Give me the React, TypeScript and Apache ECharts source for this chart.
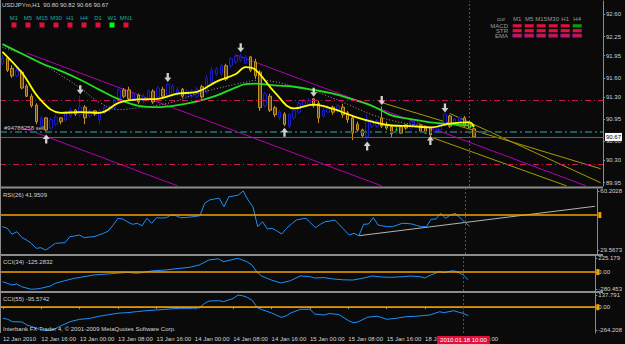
import React, { useEffect, useRef } from 'react';
import * as echarts from 'echarts';

// ---------- data ----------
const TICK_LABELS = ['12 Jan 2010', '12 Jan 16:00', '13 Jan 00:00', '13 Jan 08:00', '13 Jan 16:00', '14 Jan 00:00', '14 Jan 08:00', '14 Jan 16:00', '15 Jan 00:00', '15 Jan 08:00', '15 Jan 16:00', '18 Jan 00:00', '18 Jan 08:00'];
const SLOT_COUNT = 124; // bars + empty chart shift

const OPEN = [91.83, 91.91, 91.75, 91.63, 91.69, 91.47, 91.31, 91.17, 90.84, 90.97,
  90.81, 90.87, 90.97, 90.94, 91.00, 91.09, 91.02, 91.14, 91.00, 91.08,
  90.94, 91.06, 91.09, 91.13, 91.25, 91.41, 91.41, 91.27, 91.33, 91.24,
  91.28, 91.39, 91.30, 91.42, 91.31, 91.35, 91.35, 91.42, 91.31, 91.31,
  91.31, 91.46, 91.38, 91.53, 91.66, 91.66, 91.79, 91.79, 91.85, 91.88,
  91.83, 91.93, 91.85, 91.69, 91.16, 91.31, 91.13, 90.97, 91.03, 90.84,
  90.97, 91.06, 91.16, 91.19, 91.27, 91.20, 91.00, 91.06, 91.14, 91.08,
  91.14, 91.05, 90.97, 90.87, 90.78, 90.67, 90.84, 90.84, 90.97, 90.87,
  90.83, 90.78, 90.83, 90.86, 90.81, 90.83, 90.86, 90.83, 90.81, 90.76,
  90.78, 90.86, 91.00, 90.86, 90.89, 90.97, 90.89, 90.80];
const CLOSE = [91.91, 91.72, 91.63, 91.72, 91.44, 91.31, 91.16, 90.91, 90.97, 90.78,
  90.94, 90.98, 90.91, 91.05, 91.09, 91.03, 91.14, 90.97, 91.08, 91.03,
  91.08, 91.14, 91.14, 91.24, 91.41, 91.31, 91.27, 91.35, 91.22, 91.31,
  91.39, 91.22, 91.44, 91.31, 91.50, 91.47, 91.42, 91.31, 91.39, 91.39,
  91.42, 91.30, 91.60, 91.72, 91.74, 91.79, 91.58, 91.90, 91.94, 91.94,
  91.93, 91.72, 91.63, 91.13, 91.35, 91.09, 91.02, 91.06, 90.87, 91.02,
  91.09, 91.20, 91.24, 91.25, 91.16, 90.97, 91.09, 91.14, 91.06, 91.16,
  91.02, 90.94, 90.73, 90.78, 90.69, 90.94, 90.92, 90.92, 90.84, 90.81,
  90.72, 90.78, 90.73, 90.81, 90.91, 90.94, 90.76, 90.73, 90.70, 90.83,
  90.87, 91.03, 90.84, 90.95, 90.98, 90.84, 90.81, 90.67];
const LOW = [91.80, 91.69, 91.60, 91.61, 91.42, 91.30, 91.13, 90.87, 90.81, 90.73,
  90.78, 90.84, 90.87, 90.91, 90.97, 91.00, 90.98, 90.87, 90.97, 91.00,
  90.87, 91.03, 91.06, 91.09, 91.22, 91.28, 91.24, 91.24, 91.19, 91.20,
  91.24, 91.19, 91.27, 91.28, 91.28, 91.31, 91.31, 91.28, 91.30, 91.28,
  91.28, 91.27, 91.35, 91.50, 91.63, 91.63, 91.55, 91.75, 91.82, 91.85,
  91.82, 91.69, 91.58, 91.08, 91.13, 91.06, 90.98, 90.94, 90.84, 90.81,
  90.94, 91.03, 91.14, 91.16, 91.13, 90.89, 90.97, 91.05, 91.02, 91.06,
  90.97, 90.89, 90.62, 90.75, 90.65, 90.62, 90.81, 90.81, 90.81, 90.78,
  90.67, 90.73, 90.72, 90.78, 90.79, 90.81, 90.73, 90.72, 90.71, 90.73,
  90.76, 90.84, 90.81, 90.84, 90.87, 90.83, 90.79, 90.66];
const HIGH = [91.96, 91.93, 91.80, 91.79, 91.72, 91.50, 91.35, 91.20, 91.00, 90.98,
  90.97, 91.02, 90.98, 91.08, 91.13, 91.11, 91.32, 91.17, 91.11, 91.09,
  91.11, 91.17, 91.17, 91.27, 91.44, 91.44, 91.46, 91.38, 91.35, 91.35,
  91.42, 91.42, 91.47, 91.46, 91.51, 91.50, 91.46, 91.44, 91.42, 91.42,
  91.46, 91.49, 91.64, 91.77, 91.77, 91.82, 91.82, 91.93, 91.97, 91.98,
  91.96, 91.94, 91.90, 91.72, 91.38, 91.35, 91.16, 91.09, 91.06, 91.05,
  91.13, 91.24, 91.27, 91.28, 91.28, 91.24, 91.13, 91.17, 91.16, 91.19,
  91.19, 91.08, 91.00, 90.91, 90.80, 91.02, 90.95, 90.95, 91.15, 90.91,
  90.86, 90.83, 90.84, 90.87, 90.92, 90.95, 90.87, 90.84, 90.83, 90.84,
  90.91, 91.03, 91.02, 90.97, 91.00, 91.00, 90.92, 90.82];

const MA_IDX = [0, 4, 8, 12, 16, 20, 24, 28, 32, 36, 40, 44, 48, 50, 52, 56, 60, 64, 68, 72, 76, 80, 84, 88, 92, 96, 97];
const MA_FAST = [92.01, 91.68, 91.24, 91.05, 91.06, 91.05, 91.21, 91.26, 91.27, 91.35, 91.38, 91.54, 91.66, 91.77, 91.73, 91.37, 91.12, 91.18, 91.11, 91.00, 90.91, 90.85, 90.84, 90.82, 90.88, 90.90, 90.83];
const MA_SLOW = [92.13, 91.98, 91.83, 91.71, 91.57, 91.41, 91.26, 91.16, 91.14, 91.17, 91.23, 91.32, 91.45, 91.50, 91.51, 91.48, 91.46, 91.41, 91.35, 91.26, 91.16, 91.01, 90.95, 90.90, 90.87, 90.85, 90.84];
const MA_DOT = [92.08, 91.98, 91.83, 91.64, 91.44, 91.21, 91.10, 91.13, 91.17, 91.24, 91.35, 91.43, 91.50, 91.53, 91.56, 91.54, 91.46, 91.39, 91.28, 91.15, 91.02, 90.93, 90.87, 90.83];

const DOWN_ARROW_BARS = [16, 34, 49, 64, 78, 91];
const UP_ARROW_BARS = [9, 58, 75, 88];

const MAGENTA_LINES = [
  [[5, 91.99], [78, 89.90]],
  [[4, 90.82], [36, 89.90]],
  [[48, 91.96], [120, 89.90]],
];
const GOLD_LINES = [
  [[78, 91.21], [123, 90.17]],
  [[92, 91.04], [123, 89.95]],
  [[88, 90.67], [116, 89.90]],
];

const SL_PRICE = 91.25;
const TP_PRICE = 90.24;
const ORDER_PRICE = 90.75;
const ORDER_LABEL = '#94786258 sell';
const BID_PRICE = 90.67;
const CURSOR_BAR = 96;
const CURSOR_LABEL = '2010.01.18 10:00';

const PRICE_TICKS = [92.60, 92.25, 91.95, 91.60, 91.30, 90.95, 90.60, 90.30, 89.95];

const RSI = [41.67, 40.83, 37.72, 39.07, 36.16, 34.76, 33.05, 30.45, 30.76, 29.57,
  31.28, 33.05, 33.20, 33.36, 36.47, 36.84, 37.36, 35.95, 36.32, 36.47,
  37.36, 38.24, 39.43, 42.55, 46.03, 45.66, 44.11, 42.91, 43.43, 42.18,
  46.03, 43.43, 46.34, 46.18, 46.34, 47.74, 47.38, 46.34, 46.44, 46.70,
  46.96, 47.38, 53.82, 55.53, 56.05, 56.41, 52.05, 57.24, 57.61, 58.13,
  60.20, 55.53, 52.05, 41.67, 44.26, 40.47, 40.83, 39.43, 37.87, 40.83,
  43.07, 45.14, 45.66, 46.03, 43.59, 41.15, 42.91, 44.26, 44.63, 45.14,
  42.55, 39.95, 37.36, 38.24, 36.99, 42.91, 43.07, 46.34, 42.55, 42.03,
  41.67, 41.67, 42.55, 43.43, 43.33, 43.07, 42.29, 41.67, 41.67, 45.51,
  45.66, 48.62, 46.03, 47.74, 48.62, 46.34, 43.95, 41.95];
const RSI_LEVEL = 47.7;
const RSI_TREND = [[74, 36.99], [123, 52.26]];
const RSI_TICKS = [60.2028, 29.5673];

const CCI34_IDX = [0, 1, 2, 3, 4, 6, 7, 8, 10, 11, 13, 15, 17, 19, 21, 24, 26, 28, 29, 31, 34, 37, 39, 41, 43, 45, 46, 48, 49, 50, 51, 52, 53, 54, 56, 58, 60, 62, 64, 65, 67, 69, 71, 73, 75, 77, 79, 81, 83, 85, 87, 88, 89, 91, 92, 93, 94, 95, 96, 97];
const CCI34 = [-156.6, -182.7, -210.4, -194.1, -238.2, -280.45, -276, -264.3, -226.8, -182.7, -140.3, -101.1, -75.0, -47.3, -35.9, -17.9, -3.3, -19.6, -9.8, 17.9, 34.3, 62.0, 78.3, 115.8, 197.4, 217.0, 169.7, 205.5, 225.18, 197.4, 164.8, 115.8, 1.6, -63.6, -128.9, -177.8, -140.3, -63.6, -71.8, -96.2, -89.7, -112.6, -125.6, -128.9, -101.1, -63.6, -79.9, -84.8, -76.7, -63.6, -75.0, -96.2, -55.5, 6.5, -9.8, 9.8, 22.8, -6.5, -47.3, -125.28];
const CCI34_TICKS = [225.179, 0, -280.453];

const CCI55_IDX = [0, 1, 2, 4, 5, 6, 7, 8, 9, 10, 11, 12, 14, 16, 18, 20, 22, 24, 26, 28, 30, 32, 35, 37, 39, 41, 42, 43, 45, 46, 48, 49, 50, 51, 52, 53, 54, 56, 58, 59, 60, 62, 64, 65, 67, 68, 70, 72, 73, 74, 76, 78, 80, 82, 84, 86, 88, 89, 91, 92, 94, 95, 96, 97];
const CCI55 = [-126.1, -137.5, -164.8, -168.2, -202.3, -219.3, -242.0, -255, -264.21, -259.1, -242.0, -213.6, -164.8, -137.5, -128.4, -103.4, -85.2, -68.2, -61.4, -50.0, -38.6, -31.8, -19.3, -12.5, -12.5, -6.8, 42.0, 70.5, 73.9, 63.6, 98.9, 137.79, 129.5, 110.2, 76.1, -3.4, -27.3, -65.9, -114.8, -100.0, -65.9, -23.9, -23.9, -77.3, -88.6, -71.6, -83.0, -151.1, -176.1, -168.2, -113.6, -102.3, -137.5, -126.1, -108.0, -103.4, -93.2, -88.6, -52.3, -61.4, -39.8, -56.8, -71.6, -95.57];
const CCI55_TICKS = [137.791, 0, -264.208];

const TF_NAMES = ['M1', 'M5', 'M15', 'M30', 'H1', 'H4', 'D1', 'W1', 'MN1'];
const TF_UP = [false, false, false, false, false, false, false, true, false];
const TABLE_COLS = ['M1', 'M5', 'M15', 'M30', 'H1', 'H4'];
const TABLE_ROWS = ['MACD', 'STR', 'EMA'];
const TABLE_UP = [[0, 0, 0, 0, 0, 1], [0, 0, 0, 0, 0, 0], [0, 0, 0, 0, 0, 0]];

const TITLE = 'USDJPYm,H1  90.80 90.82 90.66 90.67';
const RSI_TITLE = 'RSI(26) 41.9509';
const CCI34_TITLE = 'CCI(34) -125.2832';
const CCI55_TITLE = 'CCI(55) -95.5742';
const FOOTER = 'Interbank FX Trader 4, \u00a9 2001-2009 MetaQuotes Software Corp.';

// ---------- styling ----------
const FONT = 'Liberation Sans';
const TXT = '#d2d2d2';
const GRAYLINE = '#8c8c8c';
const CRIMSON = '#c8145a';
const BLUE = '#1e90ff';
const ORANGE = '#f5a000';

const CATEGORIES = Array.from({ length: SLOT_COUNT }, (_, i) =>
  i % 8 === 0 && i / 8 < TICK_LABELS.length ? TICK_LABELS[i / 8] : 'b' + i);

const pairs = (idx: number[], vals: number[]) => vals.map((v, k) => [idx[k], v]);

function buildOption(): any {
  const grids = [
    { left: 0, right: 22, top: 1, height: 185 },
    { left: 0, right: 22, top: 189, height: 65 },
    { left: 0, right: 22, top: 256, height: 35 },
    { left: 0, right: 22, top: 293, height: 40 },
  ];
  const xAxis = grids.map((_, k) => ({
    type: 'category', gridIndex: k, data: CATEGORIES, boundaryGap: true,
    axisLine: k === 3 ? { show: true, lineStyle: { color: GRAYLINE, type: 'dotted' } } : { show: false },
    axisTick: k === 3 ? { show: true, alignWithLabel: true, length: 2, interval: (i: number) => i % 8 === 0 && i <= 96, lineStyle: { color: GRAYLINE } } : { show: false },
    axisLabel: k === 3 ? {
      show: true, interval: (i: number) => i % 8 === 0 && i <= 96, align: 'left', margin: 3,
      color: TXT, fontSize: 6, fontFamily: FONT,
    } : { show: false },
    splitLine: { show: false },
  }));
  const yCommon = (k: number, min: number, max: number, ticks: number[], fmt: (v: number) => string) => ({
    type: 'value', gridIndex: k, position: 'right', min, max,
    axisLine: { show: true, lineStyle: { color: GRAYLINE } },
    axisTick: { show: true, length: 2, customValues: ticks, lineStyle: { color: GRAYLINE } },
    axisLabel: { show: true, customValues: ticks, formatter: fmt, color: TXT, fontSize: 6, fontFamily: FONT, margin: 3 },
    splitLine: { show: false },
  });
  const yAxis = [
    yCommon(0, 89.898, 92.809, PRICE_TICKS, (v) => v.toFixed(2)),
    yCommon(1, 27.49, 61.241, RSI_TICKS, (v) => String(v)),
    yCommon(2, -308.3, 262.6, CCI34_TICKS, (v) => (v === 0 ? '0.00' : String(v))),
    yCommon(3, -293.2, 161.4, CCI55_TICKS, (v) => (v === 0 ? '0.00' : String(v))),
  ];

  const cursorLine = (withLabel: boolean) => ({
    xAxis: CATEGORIES[CURSOR_BAR],
    lineStyle: { color: CRIMSON, type: [2, 2], width: 1 },
    label: withLabel ? {
      show: true, position: 'start', formatter: CURSOR_LABEL, color: '#ffffff', backgroundColor: '#e0103c',
      fontSize: 6, fontFamily: FONT, padding: [1, 3], distance: 3,
    } : { show: false },
  });
  const levelLine = (v: number) => ({
    yAxis: v,
    lineStyle: { color: ORANGE, type: 'solid', width: 1.5 },
    label: { show: true, position: 'end', formatter: ' ', backgroundColor: ORANGE, padding: [1, 0], fontSize: 4, distance: 1, width: 3 },
  });

  const series: any[] = [];
  series.push({
    type: 'candlestick', xAxisIndex: 0, yAxisIndex: 0, barWidth: 3,
    data: OPEN.map((o, i) => [o, CLOSE[i], LOW[i], HIGH[i]]),
    itemStyle: { color: '#05052e', color0: '#5e4410', borderColor: '#1c1cc4', borderColor0: '#c8921c', borderColorDoji: '#20c020', borderWidth: 1 },
    markLine: {
      silent: true, symbol: ['none', 'none'], label: { show: false },
      data: [
        { yAxis: SL_PRICE, lineStyle: { color: CRIMSON, type: [6, 3, 1, 3], width: 1 } },
        { yAxis: TP_PRICE, lineStyle: { color: CRIMSON, type: [6, 3, 1, 3], width: 1 } },
        {
          yAxis: ORDER_PRICE, lineStyle: { color: '#1e5c5c', type: [7, 3, 2, 3], width: 2 },
          label: { show: true, position: 'insideStartTop', formatter: ORDER_LABEL, color: '#c8c8c8', fontSize: 6, fontFamily: FONT, distance: [4, 1] },
        },
        {
          yAxis: BID_PRICE, lineStyle: { color: '#4a6676', type: 'solid', width: 1 },
          label: { show: true, position: 'end', formatter: BID_PRICE.toFixed(2), color: '#000000', backgroundColor: '#ffffff', fontSize: 6, fontFamily: FONT, padding: [1, 1], distance: 2 },
        },
        cursorLine(false),
      ],
    },
    z: 3,
  });
  MAGENTA_LINES.forEach((ln) => series.push({
    type: 'line', xAxisIndex: 0, yAxisIndex: 0, data: ln, symbol: 'none', silent: true,
    lineStyle: { color: '#b400b4', width: 1 }, z: 2,
  }));
  GOLD_LINES.forEach((ln) => series.push({
    type: 'line', xAxisIndex: 0, yAxisIndex: 0, data: ln, symbol: 'none', silent: true,
    lineStyle: { color: '#a89a00', width: 1 }, z: 2,
  }));
  series.push({
    type: 'line', xAxisIndex: 0, yAxisIndex: 0, data: pairs(MA_IDX, MA_DOT), smooth: 0.4, symbol: 'none',
    lineStyle: { color: '#a0a0a0', width: 1, type: [1, 2] }, z: 4,
  });
  series.push({
    type: 'line', xAxisIndex: 0, yAxisIndex: 0, data: pairs(MA_IDX, MA_SLOW), smooth: 0.4, symbol: 'none',
    lineStyle: { color: '#22dd22', width: 1.8 }, z: 4,
  });
  series.push({
    type: 'line', xAxisIndex: 0, yAxisIndex: 0, data: pairs(MA_IDX, MA_FAST), smooth: 0.4, symbol: 'none',
    lineStyle: { color: '#ffff00', width: 1.8 }, z: 5,
  });
  series.push({
    type: 'scatter', xAxisIndex: 0, yAxisIndex: 0, data: DOWN_ARROW_BARS.map((i) => [i, HIGH[i]]),
    symbol: 'path://M3,0 L6,0 L6,5 L9,5 L4.5,10 L0,5 L3,5 Z', symbolSize: [7, 9], symbolOffset: [0, -6],
    itemStyle: { color: '#ffffff' }, z: 6,
  });
  series.push({
    type: 'scatter', xAxisIndex: 0, yAxisIndex: 0, data: UP_ARROW_BARS.map((i) => [i, LOW[i]]),
    symbol: 'path://M4.5,0 L9,5 L6,5 L6,10 L3,10 L3,5 L0,5 Z', symbolSize: [7, 9], symbolOffset: [0, 6],
    itemStyle: { color: '#ffffff' }, z: 6,
  });

  // RSI
  series.push({
    type: 'line', xAxisIndex: 1, yAxisIndex: 1, data: RSI, symbol: 'none',
    lineStyle: { color: BLUE, width: 1 }, z: 4,
    markLine: { silent: true, symbol: ['none', 'none'], label: { show: false }, data: [levelLine(RSI_LEVEL), cursorLine(false)] },
  });
  series.push({
    type: 'line', xAxisIndex: 1, yAxisIndex: 1, data: RSI_TREND, symbol: 'none',
    lineStyle: { color: '#b4b4b4', width: 1 }, z: 3,
  });
  // CCI 34
  series.push({
    type: 'line', xAxisIndex: 2, yAxisIndex: 2, data: pairs(CCI34_IDX, CCI34), symbol: 'none',
    lineStyle: { color: BLUE, width: 1 }, z: 4,
    markLine: { silent: true, symbol: ['none', 'none'], label: { show: false }, data: [levelLine(0), cursorLine(false)] },
  });
  // CCI 55
  series.push({
    type: 'line', xAxisIndex: 3, yAxisIndex: 3, data: pairs(CCI55_IDX, CCI55), symbol: 'none',
    lineStyle: { color: BLUE, width: 1 }, z: 4,
    markLine: { silent: true, symbol: ['none', 'none'], label: { show: false }, data: [levelLine(0), cursorLine(true)] },
  });

  const txt = (text: string, x: number, y: number, fill = TXT, align = 'left') => ({
    type: 'text', x, y, z: 100,
    style: { text, fill, fontSize: 6, fontFamily: FONT, align, verticalAlign: 'middle' },
  });
  const graphic: any[] = [
    { type: 'rect', shape: { x: 0, y: 186.5, width: 603, height: 2 }, style: { fill: GRAYLINE }, z: 90 },
    { type: 'rect', shape: { x: 0, y: 254, width: 603, height: 2 }, style: { fill: GRAYLINE }, z: 90 },
    { type: 'rect', shape: { x: 0, y: 291, width: 603, height: 2 }, style: { fill: GRAYLINE }, z: 90 },
    { type: 'rect', shape: { x: 0, y: 0, width: 1, height: 333 }, style: { fill: GRAYLINE }, z: 90 },
    txt(TITLE, 2, 5),
    txt(RSI_TITLE, 3, 194.5),
    txt(CCI34_TITLE, 3, 261.5),
    txt(CCI55_TITLE, 3, 298.5),
    txt(FOOTER, 3, 328.5),
  ];
  TF_NAMES.forEach((n, k) => {
    const cx = 14 + k * 14;
    graphic.push(txt(n, cx, 17.7, '#1fa8a8', 'center'));
    graphic.push({ type: 'rect', z: 100, shape: { x: cx - 2.5, y: 22.5, width: 5, height: 5 }, style: { fill: TF_UP[k] ? '#00ff00' : '#e0103c' } });
  });
  graphic.push(txt('cur', 497, 19.3, '#9a9a9a'));
  TABLE_COLS.forEach((c, k) => graphic.push(txt(c, 517.2 + k * 12, 19.3, '#9a9a9a', 'center')));
  TABLE_ROWS.forEach((r, j) => {
    const cy = 25.8 + j * 4.9;
    graphic.push(txt(r, 508, cy, '#9a9a9a', 'right'));
    TABLE_COLS.forEach((_, k) => graphic.push({
      type: 'rect', z: 100, shape: { x: 512.7 + k * 12, y: cy - 1.6, width: 9, height: 3.2 },
      style: { fill: TABLE_UP[j][k] ? '#00a000' : '#e0103c', stroke: j === 2 ? '#5030c0' : null, lineWidth: 0.6 },
    }));
  });

  return {
    animation: false,
    backgroundColor: '#0a0a0a',
    grid: grids,
    xAxis,
    yAxis,
    series,
    graphic,
  };
}

export default function App() {
  const ref = useRef<HTMLDivElement>(null);
  useEffect(() => {
    if (!ref.current) return;
    const chart = echarts.init(ref.current, null, { renderer: 'svg' });
    chart.setOption(buildOption());
    return () => chart.dispose();
  }, []);
  return <div ref={ref} style={{ position: 'fixed', left: 0, top: 0, width: 625, height: 344, background: '#0a0a0a' }} />;
}
